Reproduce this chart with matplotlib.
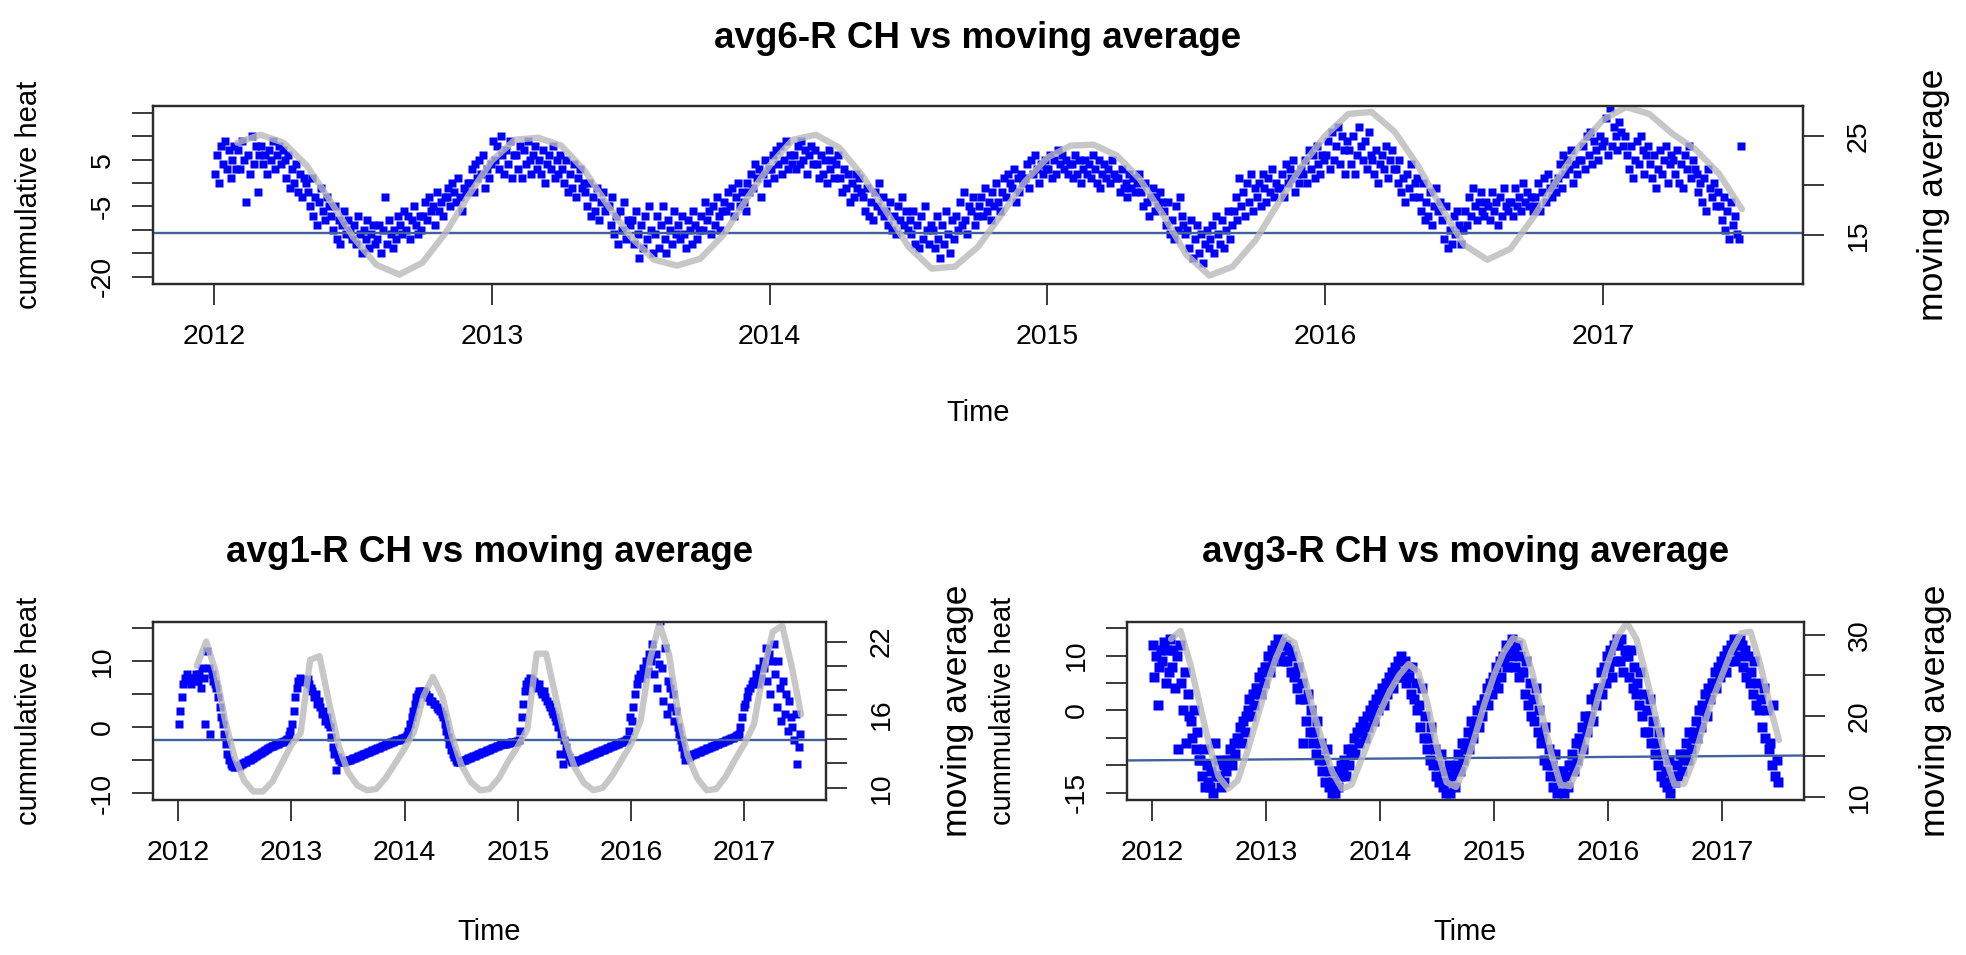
import numpy as np
import matplotlib
matplotlib.use("Agg")
import matplotlib.pyplot as plt

plt.rcParams['font.family'] = ['Liberation Sans', 'DejaVu Sans']

W, H = 1966, 955

years = [2012, 2013, 2014, 2015, 2016, 2017]
year_labels = ["2012", "2013", "2014", "2015", "2016", "2017"]

# ---------------- avg6 (top) : 12 readings per month, Jan 2012 .. Jun 2017
ch6 = [
 2, 6, 0, 8, 4, 9, 3, 7, 1, 5, 8, 3,
 7, 3, 9, 5, -4, 6, 2, 10, 4, 8, -2, 6,
 8, 4, 6, 2, 7, 5, 9, 3, 6, 8, 4, 7,
 5, 1, 6, -1, 3, 0, 4, -2, 2, -3, 1, 0,
 -2, -5, 1, -7, -3, -9, -4, -1, -6, -8, -3, -5,
 -7, -10, -5, -12, -8, -13, -9, -6, -11, -8, -10, -12,
 -9, -13, -7, -11, -15, -10, -12, -8, -14, -11, -9, -13,
 -12, -9, -15, -10, -3, -13, -8, -11, -14, -10, -12, -7,
 -9, -11, -6, -10, -7, -12, -8, -5, -9, -11, -7, -10,
 -7, -4, -8, -3, -6, -5, -9, -2, -6, -4, -7, -3,
 -3, -1, -5, 0, -2, -4, 1, -3, -6, -1, -2, 0,
 0, 3, -2, 4, 1, 5, 2, 6, -1, 3, 1, 4,
 9, 5, 8, 3, 10, 6, 2, 7, 4, 9, 1, 6,
 6, 3, 8, 1, 7, 4, 9, 5, 2, 6, 8, 3,
 5, 2, 7, 0, 4, 6, 3, 8, 1, 5, 2, 6,
 3, 0, 5, -2, 2, -1, 4, -3, 1, 3, -1, 0,
 -2, -5, 0, -7, -3, -6, -1, -8, -4, -2, -6, -5,
 -5, -9, -3, -11, -7, -13, -6, -10, -4, -12, -8, -9,
 -8, -13, -6, -11, -16, -9, -14, -7, -12, -5, -10, -15,
 -11, -7, -14, -9, -5, -12, -15, -8, -10, -13, -6, -11,
 -9, -12, -7, -11, -14, -8, -10, -13, -6, -9, -12, -10,
 -7, -10, -4, -8, -6, -11, -5, -9, -3, -7, -10, -6,
 -4, -6, -2, -5, -1, -7, -3, 0, -5, -2, -4, -6,
 0, -2, 2, -1, 4, 1, 3, -3, 2, 5, 0, 3,
 3, 6, 1, 7, 4, 8, 2, 5, 9, 3, 6, 4,
 6, 3, 8, 4, 9, 5, 7, 2, 6, 8, 4, 7,
 4, 1, 6, 2, 5, 0, 7, 3, 5, 1, 4, 6,
 1, -2, 3, -1, 2, -4, 0, -3, 2, -1, 1, -2,
 -3, -6, -1, -7, -4, -8, -2, -5, 0, -6, -3, -7,
 -6, -9, -4, -10, -7, -11, -5, -8, -3, -9, -6, -10,
 -8, -11, -6, -13, -9, -14, -7, -12, -5, -10, -13, -9,
 -10, -14, -7, -12, -16, -9, -13, -6, -11, -15, -8, -12,
 -7, -10, -4, -9, -2, -8, -11, -5, -6, -3, -9, -7,
 -5, -3, -7, -1, -6, -4, -8, -2, -5, 0, -4, -6,
 -2, 1, -3, 2, 0, -1, 3, -4, 1, -2, 2, 0,
 1, 4, -1, 5, 2, 6, 3, 0, 4, 2, 5, 3,
 3, 6, 1, 5, 2, 7, 4, 6, 3, 5, 2, 4,
 4, 1, 6, 2, 5, 0, 3, 5, 2, 4, 1, 6,
 3, 0, 5, -1, 2, 4, 1, 3, 0, 5, 2, 1,
 1, -2, 3, -1, 0, -3, 2, -1, 1, -2, 0, 2,
 -2, -5, 0, -4, -7, -3, -1, -6, -3, -5, -2, -4,
 -6, -9, -4, -11, -8, -12, -5, -10, -3, -7, -9, -11,
 -10, -14, -8, -16, -12, -9, -15, -11, -17, -13, -10, -14,
 -12, -9, -15, -7, -11, -13, -8, -14, -10, -6, -12, -9,
 -6, -3, -8, 1, -5, -2, -7, 0, -4, 2, -6, -1,
 -3, 0, -5, 2, -1, -4, 1, -2, 3, -3, 0, -1,
 -1, 2, -3, 4, 0, 3, 1, 5, -2, 2, 0, 3,
 2, 5, 0, 7, 3, 6, 1, 8, 4, 2, 6, 5,
 6, 9, 3, 11, 5, 8, 12, 4, 10, 7, 2, 9,
 7, 4, 10, 2, 6, 12, 8, 5, 9, 3, 11, 6,
 5, 2, 7, 0, 4, 6, 3, 8, 1, 5, 7, 3,
 3, 0, 5, -2, 1, -4, 2, -1, 4, -3, 0, 1,
 -3, -6, 0, -8, -4, -7, -2, -9, -5, -1, -6, -4,
 -8, -12, -5, -14, -10, -13, -7, -11, -6, -9, -13, -10,
 -6, -9, -3, -7, -1, -5, -8, -4, -2, -6, -7, -4,
 -5, -8, -2, -6, -4, -9, -3, -7, -1, -5, -6, -4,
 -4, -7, -1, -5, -3, -6, 0, -4, -2, -5, -3, -6,
 -3, -5, 0, -6, -2, 1, -4, 2, -1, -3, 0, -2,
 1, 4, -1, 6, 2, 5, 3, 7, 0, 4, 2, 5,
 5, 8, 3, 10, 6, 11, 4, 9, 7, 5, 10, 8,
 9, 14, 6, 16, 8, 12, 10, 7, 13, 11, 8, 10,
 6, 3, 8, 1, 5, 9, 4, 10, 7, 2, 6, 8,
 4, 1, 6, -1, 3, 7, 2, 5, 8, 0, 4, 6,
 5, 2, 7, 0, 4, -1, 6, 3, 8, 1, 5, 3,
 2, -2, 0, -4, 1, -6, 3, -1, -3, 0, -5, -2,
 -5, -8, -3, -10, -6, -12, -4, -9, -7, -11, -12, 8,
]
# moving average (monthly, from Feb 2012)
ma6 = [24.3, 25.1, 24.3, 22.0, 18.5, 14.8, 12.0, 11.0, 12.2, 15.2, 19.0,
       22.5, 24.6, 24.8, 24.0, 21.5, 18.0, 14.8, 12.5, 11.9, 12.6, 15.0, 18.6,
       22.0, 24.6, 25.1, 23.8, 21.0, 17.5, 13.8, 11.6, 11.8, 13.8, 17.0, 20.3,
       22.8, 24.0, 24.1, 23.0, 20.6, 17.0, 13.0, 10.9, 11.8, 14.5, 18.3, 22.0,
       25.0, 27.2, 27.4, 25.4, 22.0, 17.8, 14.0, 12.5, 13.6, 16.8, 20.5, 24.0,
       26.6, 27.9, 27.2, 25.2, 23.6, 21.2, 17.6]
ma6_start = 1
line6 = [-10.6, -10.6]

# ---------------- avg1 (bottom left): 6 readings per month
ch1 = [
 0.5, 2.5, 4.5, 6.5, 7.5, 8,
 7, 7.5, 6.5, 7.5, 7, 8,
 7, 8, 6, 9, 7.5, 0.5,
 11.5, 9, -1, 8, 7, 6.5,
 6, 4.5, 3, 1.5, 0.5, -1,
 -2.5, -4, -5, -5.5, -5.8, -6,
 -6, -5.9, -5.8, -5.7, -5.5, -5.4,
 -5.3, -5.2, -5, -5, -4.8, -4.7,
 -4.5, -4.4, -4.2, -4, -3.9, -3.8,
 -3.6, -3.5, -3.3, -3.2, -3, -2.9,
 -2.8, -2.7, -2.6, -2.5, -2.4, -2.3,
 -2.2, -2.1, -2, -1.8, -1.2, -0.5,
 0.5, 2.5, 4.5, 6, 7, 7.5,
 7, 7.2, 6.8, 7, 7.3, 6.5,
 6, 5.5, 4.5, 5, 3.5, 4,
 3, 2, 2.5, 1, 1.5, 0.5,
 0, -1.5, -3, -4, -6.5, -4.5,
 -5, -5.2, -5.3, -5.2, -5.1, -5,
 -5, -4.9, -4.8, -4.7, -4.6, -4.5,
 -4.4, -4.3, -4.2, -4.1, -4, -3.9,
 -3.8, -3.7, -3.6, -3.5, -3.4, -3.3,
 -3.2, -3.1, -3, -2.9, -2.8, -2.7,
 -2.6, -2.5, -2.4, -2.3, -2.2, -2.1,
 -2, -2, -1.9, -1.8, -1.7, -1.6,
 -1.5, -1.2, -0.5, 0.5, 1.5, 2.5,
 3.5, 4.5, 5, 5.5, 5.5, 5.3,
 5.5, 5, 4.5, 4.5, 4, 4,
 3.5, 3.5, 3, 2.8, 2.5, 2,
 1.5, 0.5, -0.5, -1.5, -2.5, -3.5,
 -4, -4.5, -5, -5.2, -5.3, -5.2,
 -5.1, -5, -4.9, -4.8, -4.7, -4.6,
 -4.5, -4.4, -4.3, -4.2, -4.1, -4,
 -3.9, -3.8, -3.7, -3.6, -3.5, -3.4,
 -3.3, -3.2, -3.1, -3, -2.9, -2.8,
 -2.7, -2.6, -2.6, -2.5, -2.5, -2.4,
 -2.4, -2.3, -2.3, -2.2, -2.2, -2.1,
 -2, -0.5, 1.5, 3.5, 5.5, 6.5,
 7, 7.5, 7.3, 7, 6.8, 6.5,
 6, 6.5, 5.5, 5, 5.5, 4.5,
 4, 3.5, 3, 2.5, 2, 1.5,
 1, 0, -4, -1, -5.5, -2,
 -3, -4, -4.5, -5, -5.2, -5.3,
 -5.2, -5.1, -5, -4.9, -4.8, -4.7,
 -4.6, -4.5, -4.4, -4.3, -4.2, -4.1,
 -4, -3.9, -3.8, -3.7, -3.6, -3.5,
 -3.4, -3.3, -3.2, -3.1, -3, -2.9,
 -2.8, -2.7, -2.6, -2.5, -2.4, -2.3,
 -2.2, -2.1, -2, -1.8, -0.5, 1.5,
 1, 3, 5, 6.5, 7.5, 8,
 7.5, 9, 8, 10, 8.5, 11,
 10, 12.5, 8, 11, 6, 9.5,
 16, 9, 4, 12, 2, 7,
 6, 3, 5, 1, 2.5, 0,
 -1, -2, -3, -4, -5, -4.5,
 -4.5, -4.3, -4.2, -4, -4, -3.9,
 -3.8, -3.7, -3.6, -3.5, -3.4, -3.3,
 -3.2, -3.1, -3, -2.9, -2.8, -2.7,
 -2.6, -2.5, -2.4, -2.3, -2.2, -2.1,
 -2, -1.9, -1.8, -1.7, -1.6, -1.5,
 -1.4, -1.2, -1, 0, 1.5, 3,
 3.5, 4.5, 5.5, 6, 6.5, 7,
 7, 8, 6.5, 9, 7.5, 10,
 9, 12, 7, 11, 5, 10,
 12.5, 8, 3, 10, 6, 1,
 7, 2, 5, -0.5, 4, 1.5,
 0, -2, 2, -5.5, -3, -1,
]
ma1 = [20.0, 22.0, 19.5, 15.5, 12.5, 10.6, 9.7, 9.7, 10.5, 12.0,
       13.5, 14.5, 20.5, 20.8, 17.0, 13.5, 11.3, 10.2, 9.8, 9.9, 10.8, 12.0,
       13.2, 14.6, 17.5, 19.1, 17.5, 14.3, 11.9, 10.5, 9.8, 9.9, 10.8, 12.2,
       13.4, 14.8, 21.0, 21.0, 17.5, 14.0, 11.7, 10.4, 9.8, 10.0, 11.0, 12.3,
       13.6, 15.5, 20.5, 23.5, 21.0, 16.0, 12.6, 10.8, 9.8, 9.9, 10.9, 12.3,
       13.6, 15.2, 19.5, 22.8, 23.3, 20.0, 16.0]
ma1_start = 2
line1 = [-2.0, -2.0]

# ---------------- avg3 (bottom right): 6 readings per month
ch3 = [
 12, 6, 10, 1, 8, 11,
 9, 12.5, 5, 11, 7, 13,
 8, 11, 4, 10, -7, 12,
 5, 0, 7, -6, 3, -1,
 -2, -5, 0, -7, -4, -9,
 -9, -12, -7, -14, -10, -13,
 -14, -11, -15, -6, -12, -9,
 -12, -14, -10, -13, -11, -9,
 -9, -7, -10, -6, -8, -5,
 -5, -3, -6, -2, -4, -1,
 0, 2, -1, 3, 1, 4,
 4, 6, 3, 7, 5, 8,
 8, 10, 7, 11, 9, 12,
 11, 13, 10, 12.5, 9, 12,
 12, 9, 11, 7, 10, 6,
 7, 4, 8, 2, 5, -6,
 2, -2, 3, -4, 0, -6,
 -4, -8, -2, -9, -6, -11,
 -9, -13, -7, -14, -11, -15,
 -13, -15, -11, -14, -12, -10,
 -11, -9, -12, -7, -10, -8,
 -7, -5, -8, -4, -6, -3,
 -4, -2, -5, -1, -3, 0,
 -1, 1, -2, 2, 0, 3,
 2, 4, 1, 5, 3, 6,
 5, 7, 4, 8, 6, 9,
 7, 10, 6, 9, 5, 8,
 6, 3, 8, 2, 5, 0,
 1, -3, 4, -5, -1, -7,
 -5, -9, -3, -10, -7, -12,
 -10, -13, -8, -14, -11, -15,
 -13, -10, -15, -12, -11, -14,
 -10, -8, -11, -6, -9, -7,
 -6, -4, -7, -2, -5, -3,
 -2, 0, -3, 1, -1, 2,
 2, 4, 1, 5, 3, 6,
 5, 8, 4, 9, 6, 10,
 9, 12, 8, 11, 10, 13,
 11, 8, 12, 6, 10, 7,
 7, 3, 9, 1, 5, -1,
 2, -2, 4, -4, 0, -6,
 -5, -9, -3, -10, -7, -12,
 -10, -14, -8, -15, -12, -11,
 -13, -11, -15, -12, -14, -10,
 -10, -8, -11, -6, -9, -5,
 -6, -3, -7, -1, -4, -2,
 -1, 2, -2, 3, 1, 4,
 4, 7, 3, 8, 5, 10,
 8, 11, 6, 12, 9, 13,
 12, 9, 13, 7, 11, 10,
 10, 6, 11, 4, 8, 3,
 5, 1, 7, -1, 3, -4,
 0, -4, 2, -6, -2, -8,
 -6, -10, -4, -12, -8, -13,
 -11, -14, -9, -15, -12, -13,
 -13, -10, -12, -8, -11, -9,
 -8, -6, -9, -4, -7, -5,
 -4, -2, -5, 0, -3, 1,
 0, 3, -1, 4, 2, 5,
 5, 7, 4, 8, 6, 9,
 8, 10, 7, 11, 9, 12,
 11, 13, 9, 12, 10, 13,
 12, 8, 11, 6, 10, 5,
 7, 3, 9, 1, 5, 0,
 2, -3, 4, -5, 0, -7,
 -6, -10, 1, -12, -9, -13,
]
ma3 = [29.5, 30.5, 26.5, 21.5, 16.5, 12.5, 11.0, 12.0, 15.5, 19.5,
       23.5, 27.0, 29.8, 29.0, 25.0, 20.5, 16.5, 13.0, 11.0, 11.5, 14.5, 17.5,
       20.5, 23.0, 25.0, 26.4, 25.5, 21.5, 16.0, 11.8, 11.2, 13.8, 17.5, 21.5,
       25.0, 27.8, 29.6, 29.2, 25.5, 20.5, 15.5, 11.5, 11.3, 14.0, 18.0, 22.5,
       26.5, 29.8, 31.5, 29.5, 25.0, 20.0, 15.0, 11.5, 11.6, 14.5, 18.5, 22.0,
       25.0, 28.0, 30.2, 30.4, 26.5, 21.5, 17.0]
ma3_start = 2
line3 = [-9.1, -8.2]

XLIM = (2011.78, 2017.72)

fig = plt.figure(figsize=(W / 100, H / 100), dpi=100)

SP = '#2b2b2b'


def panel(box, ch, per_month, ma, ma_start, line, llim, lticks, llabels,
          rlim, rticks, rlabels, title, title_y, time_y, ms):
    x0, y0, x1, y1 = box
    ax = fig.add_axes([x0 / W, 1 - y1 / H, (x1 - x0) / W, (y1 - y0) / H])
    t = 2012 + (np.arange(len(ch)) + 0.5) / (12 * per_month)
    ax.plot(t, ch, ls='none', marker='s', ms=ms, color='#0000ff', mec='none', zorder=2)
    ax.plot(XLIM, line, color='#41609e', lw=1.7, zorder=3)
    ax.set_xlim(*XLIM)
    ax.set_ylim(*llim)
    ax.set_xticks(years)
    ax.set_xticklabels(year_labels)
    ax.set_yticks(lticks)
    ax.set_yticklabels(llabels, rotation=90, va='center')
    ax.tick_params(axis='x', length=15, width=1.3, color=SP, labelsize=20.5, pad=14)
    ax.tick_params(axis='y', length=15, width=1.3, color=SP, labelsize=20.5, pad=12)
    for s in ax.spines.values():
        s.set_linewidth(1.6)
        s.set_color(SP)

    ax2 = ax.twinx()
    tm = 2012 + (ma_start + np.arange(len(ma))) / 12
    ax2.plot(tm, ma, color='#bababa', lw=4.6, alpha=0.8, solid_capstyle='round',
             solid_joinstyle='round')
    ax2.set_xlim(*XLIM)
    ax2.set_ylim(*rlim)
    ax2.set_yticks(rticks)
    ax2.set_yticklabels(rlabels, rotation=90, va='center')
    ax2.tick_params(axis='y', length=15, width=1.3, color=SP, labelsize=20.5, pad=16)
    for s in ax2.spines.values():
        s.set_linewidth(1.6)
        s.set_color(SP)

    cx = (x0 + x1) / 2
    cy = (y0 + y1) / 2
    fig.text(cx / W, 1 - title_y / H, title, ha='center', va='center',
             fontsize=26.5, fontweight='bold')
    fig.text(cx / W, 1 - time_y / H, 'Time', ha='center', va='center', fontsize=21)
    fig.text((x0 - 124) / W, 1 - cy / H, 'cummulative heat', rotation=90,
             ha='center', va='center', fontsize=21)
    fig.text((x1 + 131) / W, 1 - cy / H, 'moving average', rotation=90,
             ha='center', va='center', fontsize=25.5)


panel((153, 106, 1803, 284), ch6, 12, ma6, ma6_start, line6,
      (-21.6, 16.5), [-20, -15, -10, -5, 0, 5, 10, 15],
      ['-20', '', '', '-5', '', '5', '', ''],
      (10.05, 28.0), [15, 20, 25], ['15', '', '25'],
      'avg6-R CH vs moving average', 38.5, 413, 5.8)

panel((153, 622, 826, 800), ch1, 6, ma1, ma1_start, line1,
      (-11.0, 15.9), [-10, -5, 0, 5, 10, 15],
      ['-10', '', '0', '', '10', ''],
      (9.0, 23.6), [10, 12, 14, 16, 18, 20, 22],
      ['10', '', '', '16', '', '', '22'],
      'avg1-R CH vs moving average', 552, 932, 6.4)

panel((1127, 622, 1804, 800), ch3, 6, ma3, ma3_start, line3,
      (-16.3, 16.1), [-15, -10, -5, 0, 5, 10, 15],
      ['-15', '', '', '0', '', '10', ''],
      (9.6, 31.6), [10, 15, 20, 25, 30],
      ['10', '', '20', '', '30'],
      'avg3-R CH vs moving average', 552, 932, 6.8)

fig.savefig('out.png', dpi=100)
